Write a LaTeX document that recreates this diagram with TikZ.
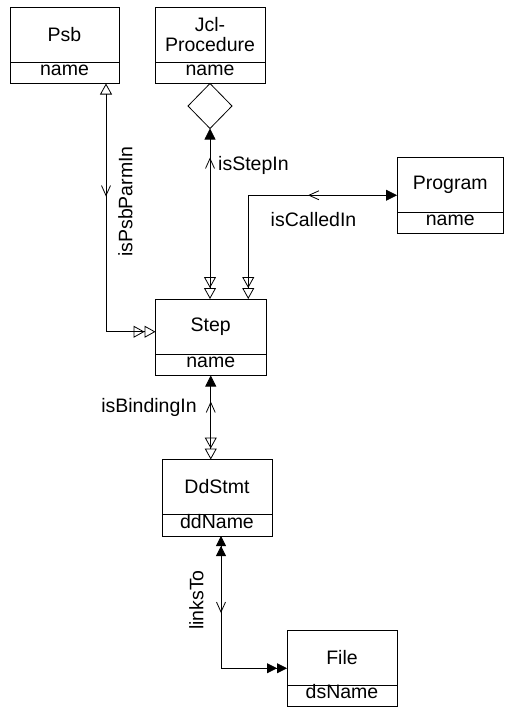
\documentclass[tikz,border=0pt]{standalone}
\usepackage{fontspec}
\setmainfont{Liberation Sans}
\usetikzlibrary{arrows.meta,shapes.geometric,decorations.markings}
\tikzset{
  otri/.tip={Triangle[open,length=11pt,width=12pt,sep=0pt]},
  ftri/.tip={Triangle[length=11pt,width=11pt,sep=0pt]},
  fsml/.tip={Triangle[length=10pt,width=10pt,sep=0pt]},
  barb/.tip={Straight Barb[length=10pt,width=9pt]},
  lbl/.style={font=\fontsize{19.5}{21}\selectfont, inner sep=0pt},
  classbox/.style={draw, line width=0.8pt, rectangle, minimum height=76.5pt, inner sep=0pt, outer sep=0pt},
  classtext/.style={font=\fontsize{19.5}{21}\selectfont, inner sep=0pt, text height=13.5pt, text depth=4pt},
  conn/.style={line width=0.8pt},
  midbarb/.style={postaction={decorate,decoration={markings,mark=at position #1 with {\arrow{barb}}}}},
  midbarbrev/.style={postaction={decorate,decoration={markings,mark=at position #1 with {\arrowreversed{barb}}}}},
}
\newcommand\umlclass[6]{%
  \node[classbox, minimum width=#4, anchor=north west] (#1) at (#2,#3) {};
  \draw[line width=0.8pt] ([yshift=-55pt]#1.north west) -- ([yshift=-55pt]#1.north east);
  \node[lbl, align=center] (#1-title) at ([yshift=-27.5pt]#1.north) {#5};
  \node[classtext] (#1-attr) at ([yshift=12.5pt]#1.south) {#6};
}
\begin{document}
\begin{tikzpicture}[x=1pt,y=-1pt]
\useasboundingbox (0,0) rectangle (504,707);
\umlclass{psb}{10}{7}{109pt}{Psb}{name}
\umlclass{jcl}{155}{7}{110pt}{Jcl-\\[-1pt]Procedure}{name}
\umlclass{program}{397}{157}{106.5pt}{Program}{name}
\umlclass{step}{155.5}{299}{110.5pt}{Step}{name}
\umlclass{ddstmt}{162}{459.5}{110pt}{DdStmt}{ddName}
\umlclass{file}{287}{630}{110pt}{File}{dsName}
\node[draw, diamond, line width=0.8pt, minimum width=44pt, minimum height=45pt, inner sep=0pt, outer sep=0pt, anchor=north] (agg) at (jcl.south) {};
% connectors
\draw[conn, {otri}-{otri[] otri[]}, midbarb=113pt] ([xshift=-13pt]psb.south east) |- ([yshift=5.5pt]step.west);
\draw[conn, {ftri}-{otri[] otri[]}, midbarbrev=29pt] (agg.south) -- (agg.south |- step.north);
\draw[conn, {ftri}-{otri[] otri[]}, midbarb=89pt] (program.west) -| ([xshift=37.5pt]step.north);
\draw[conn, {ftri}-{otri[] otri[]}, midbarbrev=26pt] (step.south) -- (step.south |- ddstmt.north);
\draw[conn, {fsml[] fsml[]}-{fsml[] fsml[]}, midbarb=77pt] ([xshift=4pt]ddstmt.south) |- (file.west);
% labels
\node[lbl, anchor=west] (l1) at (218,165) {isStepIn};
\node[lbl] (l2) at (313.5,220) {isCalledIn};
\node[lbl] (l3) at (149,407) {isBindingIn};
\node[lbl, rotate=90] (l4) at (125.5,201.5) {isPsbParmIn};
\node[lbl, rotate=90] (l5) at (196.5,600) {linksTo};
\end{tikzpicture}
\end{document}
